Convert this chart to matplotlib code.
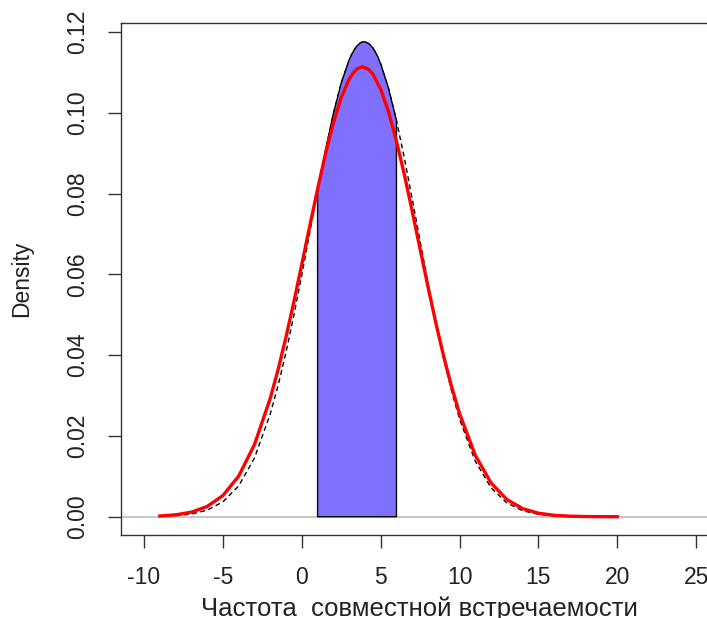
import matplotlib
matplotlib.use("Agg")
import matplotlib.pyplot as plt
import numpy as np

# --- values ---
# black density curve (dashed outside the shaded band, solid on top of it)
dens_x = [-8, -7, -6, -5, -4, -3, -2, -1.5, -1, -0.5, 0, 0.5, 1, 1.5, 2, 2.5, 3, 3.25,
          3.5, 3.75, 4, 4.25, 4.5, 4.75, 5, 5.5, 6, 6.5, 7, 7.5, 8, 8.5, 9, 9.5, 10,
          11, 12, 13, 14, 15, 16, 17]
dens_y = [0.00024, 0.00066, 0.00162, 0.00368, 0.00764, 0.01456, 0.02544, 0.03254,
          0.04075, 0.04993, 0.05988, 0.07028, 0.08072, 0.0907, 0.09976, 0.1074,
          0.1131, 0.1151, 0.1166, 0.1174, 0.1176, 0.1171, 0.1161, 0.1144, 0.1121,
          0.1060, 0.0981, 0.0888, 0.0786, 0.0682, 0.0578, 0.0480, 0.0390, 0.0310,
          0.02415, 0.0137, 0.00713, 0.00341, 0.00149, 0.0006, 0.00022, 0.00007]

# red fitted normal curve
norm_x = [-9, -8, -7, -6, -5, -4, -3, -2, -1.5, -1, -0.5, 0, 0.5, 1, 1.5, 2, 2.5, 3,
          3.25, 3.5, 3.85, 4.25, 4.5, 5, 5.5, 6, 6.5, 7, 7.5, 8, 8.5, 9, 9.5, 10, 11,
          12, 13, 14, 15, 16, 17, 18, 19, 20]
norm_y = [0.00018, 0.00047, 0.00113, 0.00253, 0.00524, 0.01006, 0.01786, 0.02931,
          0.03646, 0.0445, 0.05324, 0.0625, 0.0719, 0.0811, 0.0898, 0.0975, 0.1038,
          0.1083, 0.1098, 0.1109, 0.1114, 0.1107, 0.1096, 0.1058, 0.1002, 0.0930,
          0.0847, 0.0756, 0.0662, 0.0569, 0.0479, 0.0396, 0.0321, 0.0255, 0.01516,
          0.00834, 0.00425, 0.002, 0.00087, 0.00035, 0.00013, 0.00004, 0.00001,
          0.000003]

band_lo, band_hi = 1, 6
x_ticks = [-10, -5, 0, 5, 10, 15, 20, 25]
y_ticks = [0.00, 0.02, 0.04, 0.06, 0.08, 0.10, 0.12]
x_label = "Частота  совместной встречаемости"
y_label = "Density"

plt.rcParams['font.family'] = ['Liberation Sans', 'DejaVu Sans']
plt.rcParams['axes.unicode_minus'] = False  # R prints a plain hyphen

W, H = 707, 618
fig = plt.figure(figsize=(W / 100, H / 100), dpi=100)
left_px, right_px, top_px, bottom_px = 120.7, 718.3, 22.7, 535.3
ax = fig.add_axes([left_px / W, 1 - bottom_px / H,
                   (right_px - left_px) / W, (bottom_px - top_px) / H])
ax.set_xlim(-11.48, 26.4)
ax.set_ylim(-0.0046, 0.1223)

dx = np.array(dens_x, dtype=float)
dy = np.array(dens_y, dtype=float)

# zero line
ax.axhline(0, color='#bebebe', lw=1.2, zorder=1)

# dashed density across the whole range
ax.plot(dx, dy, color='black', lw=1.0, ls=(0, (3.5, 2.5)), zorder=2)

# shaded band under the density
m = (dx >= band_lo) & (dx <= band_hi)
px = np.concatenate([[band_lo], dx[m], [band_hi]])
py = np.concatenate([[0], dy[m], [0]])
ax.fill(px, py, facecolor='#8070ff', edgecolor='black', lw=1.0, zorder=3)

# fitted normal
ax.plot(norm_x, norm_y, color='red', lw=2.4, zorder=4)

ax.set_xticks(x_ticks)
ax.set_yticks(y_ticks)
ax.set_yticklabels([f"{v:.2f}" for v in y_ticks], rotation=90, va='center')
ax.tick_params(axis='both', direction='out', length=9.4, width=1.0,
               color='#333333', labelsize=16.5, labelcolor='#222222', pad=13)
for s in ax.spines.values():
    s.set_color('#333333')
    s.set_linewidth(1.0)

ax.set_xlabel(x_label, fontsize=18.5, color='#222222', labelpad=5)
ax.set_ylabel(y_label, fontsize=16.5, color='#222222', labelpad=24)

fig.savefig("out.png", dpi=100)
